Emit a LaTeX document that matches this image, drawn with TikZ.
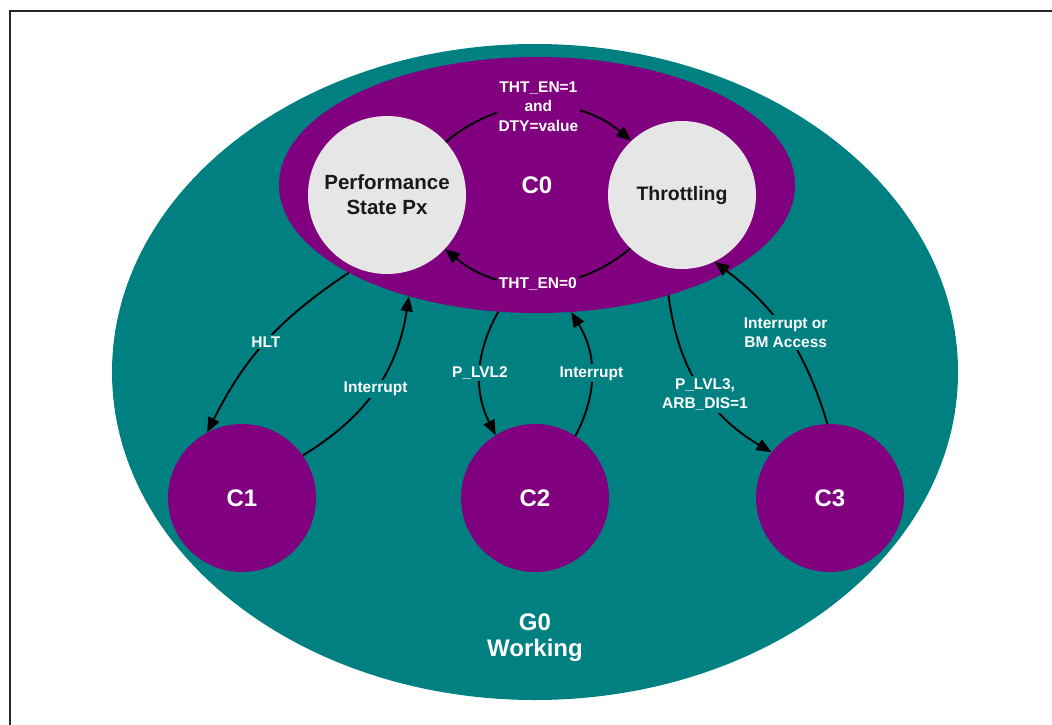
\documentclass[tikz,border=0pt]{standalone}
\usepackage{fontspec}
\setmainfont{Liberation Sans}
\usetikzlibrary{shapes.geometric,arrows.meta}

\definecolor{verdeg}{RGB}{0,128,128}
\definecolor{moradoc}{RGB}{128,0,128}
\definecolor{grisp}{RGB}{230,230,230}

\tikzset{
  estado/.style={circle, fill=moradoc, text=white, minimum size=148pt, inner sep=0pt,
    font=\fontsize{24}{26}\selectfont\bfseries},
  subestado/.style={circle, fill=grisp, text=black!90, align=center, minimum size=158pt,
    inner sep=0pt, font=\fontsize{20.5}{25}\selectfont\bfseries},
  flecha/.style={line width=1.9pt, -{Triangle[length=15pt,width=12pt]}},
  etiq/.style={text=white, align=center, inner sep=2pt, font=\fontsize{15.5}{19.5}\selectfont\bfseries},
}

\begin{document}
\begin{tikzpicture}[x=1pt, y=-1pt]
  \useasboundingbox (0,0) rectangle (1052,725);

  % Dibujar el marco
  \draw[line width=1.5pt, black!85] (10,725) -- (10,11) -- (1052,11);

  % Dibujar las elipses G0 y C0
  \node[ellipse, fill=verdeg, minimum width=846pt, minimum height=656pt, inner sep=0pt] (g0) at (535,372) {};
  \node[ellipse, fill=moradoc, minimum width=516pt, minimum height=256pt, inner sep=0pt,
    text=white, font=\fontsize{24}{26}\selectfont\bfseries] (c0) at (537,185) {C0};

  % Dibujar los subestados de C0
  \node[subestado] (perf) at (387,195) {Performance\\State Px};
  \node[subestado, minimum size=148pt, font=\fontsize{19.5}{24}\selectfont\bfseries] (thr) at (682,195) {Throttling};

  % Dibujar los estados C1, C2 y C3
  \node[estado] (c1) at (242,498) {C1};
  \node[estado] (c2) at (535,498) {C2};
  \node[estado] (c3) at (830,498) {C3};

  % Etiqueta de G0
  \node[etiq, font=\fontsize{24}{26}\selectfont\bfseries] (g0txt) at (535,638) {G0\\Working};

  % Dibujar las transiciones
  \draw[flecha] (perf.42) to[bend left=40] node[etiq, fill=moradoc] {THT\_EN=1\\and\\DTY=value} (thr.133);
  \draw[flecha] (thr.226) to[bend left=40] node[etiq, fill=moradoc] {THT\_EN=0} (perf.-43);
  \draw[flecha] (c0.205) to[bend right=15] node[etiq, fill=verdeg] {HLT} (c1.118);
  \draw[flecha] (c1.35) to[bend right=25] node[etiq, fill=verdeg] {Interrupt} (c0.221);
  \draw[flecha] (c0.253) to[bend right=28] node[etiq, fill=verdeg] {P\_LVL2} (c2.122);
  \draw[flecha] (c2.57) to[bend right=30] node[etiq, fill=verdeg] {Interrupt} (c0.285);
  \draw[flecha] (c0.320) to[bend right=26] node[etiq, fill=verdeg, pos=0.55] {P\_LVL3,\\ARB\_DIS=1} (c3.142);
  \draw[flecha] (c3.92) to[bend right=18] node[etiq, fill=verdeg] {Interrupt or\\BM Access} (thr.-64);

\end{tikzpicture}
\end{document}
